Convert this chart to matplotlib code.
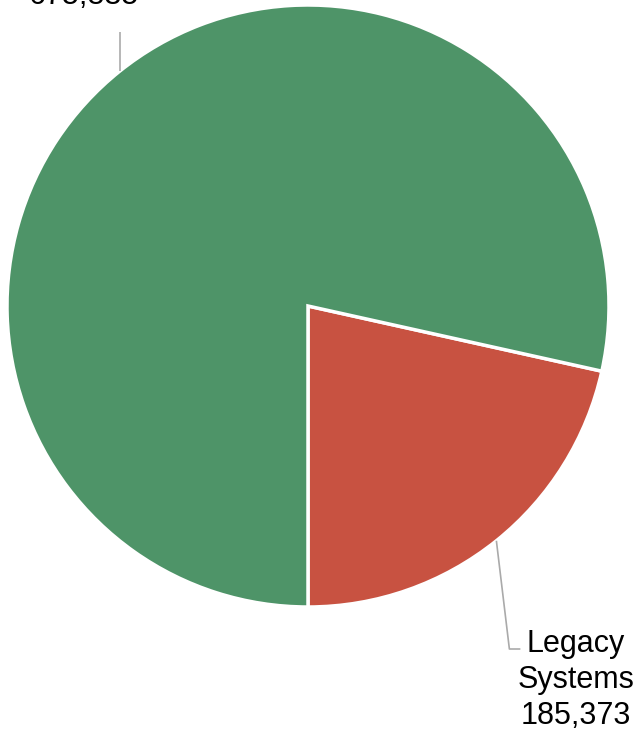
import numpy as np
import matplotlib.pyplot as plt

# slice data (first value drawn first, starting straight down, going counter-clockwise)
labels = ['Legacy\nSystems', 'Modern\nPlatforms']
values = [185373, 675835]
colors = ['#C85241', '#4E9468']

W, H = 638, 735
fig = plt.figure(figsize=(W / 100, H / 100), dpi=100)
ax = fig.add_axes([0, 0, 1, 1])

cx, cy, r = 308, H - 306, 301
wedges, _ = ax.pie(values, colors=colors, startangle=-90, counterclock=True,
                   center=(cx, cy), radius=r, frame=True,
                   wedgeprops=dict(edgecolor='white', linewidth=2.5))
ax.set_xlim(0, W)
ax.set_ylim(0, H)
ax.set_aspect('equal')
ax.axis('off')

font = dict(family=['Liberation Sans', 'Arial', 'DejaVu Sans'], fontsize=22, color='black')
line_kw = dict(color='#aaaaaa', linewidth=1.2, solid_capstyle='butt')

for w, lab, v in zip(wedges, labels, values):
    mid = np.deg2rad((w.theta1 + w.theta2) / 2)
    x0, y0 = cx + r * np.cos(mid), cy + r * np.sin(mid)
    txt = f'{lab}\n{v:,}'
    if y0 < cy:
        # lower label: slanted drop then short elbow to the right
        x1, y1 = x0 + 13, H - 649
        ax.plot([x0, x1, x1 + 11], [y0, y1, y1], **line_kw)
        ax.text(576, H - 629, txt, ha='center', va='top', linespacing=1.25, **font)
    else:
        # upper label: straight up, text sits above the top edge (clipped)
        ax.plot([x0, x0], [y0, H - 32], **line_kw)
        ax.text(84, H - 4, txt, ha='center', va='baseline', linespacing=1.25, **font)

fig.savefig('out.png', dpi=100)
